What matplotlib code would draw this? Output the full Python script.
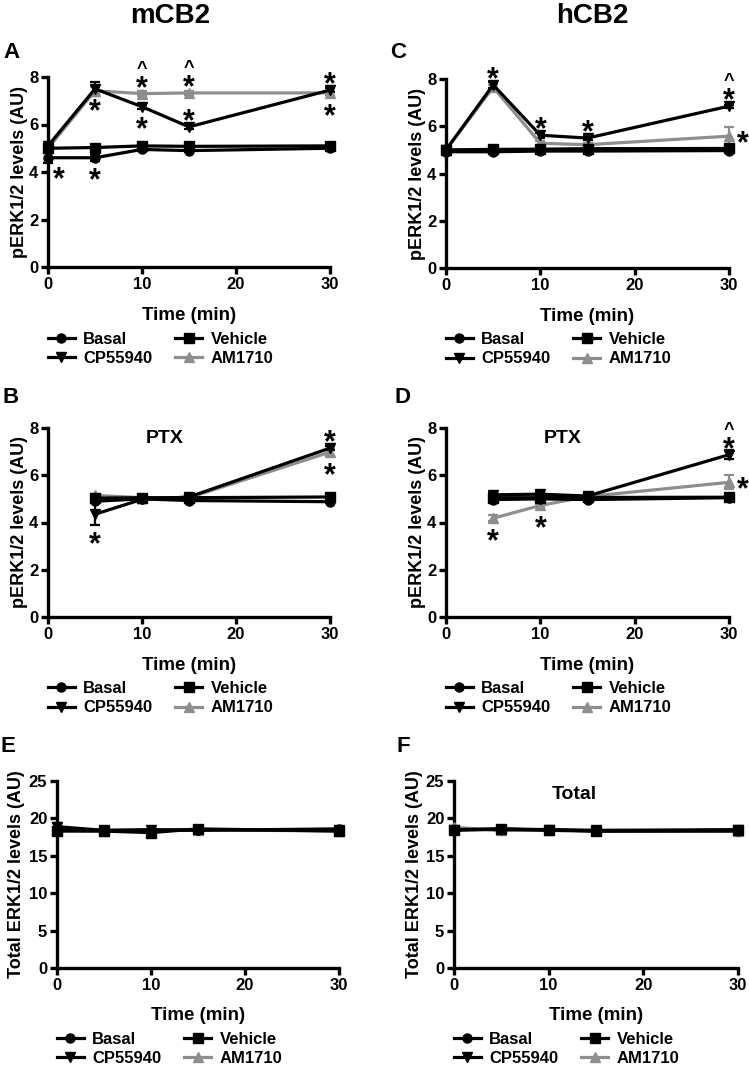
import matplotlib
matplotlib.use("Agg")
import matplotlib.pyplot as plt

plt.rcParams["font.family"] = ["Liberation Sans", "DejaVu Sans"]
plt.rcParams["font.weight"] = "bold"

# time points (min)
times = [0, 5, 10, 15, 30]
times_ptx = [5, 10, 15, 30]

# A: mCB2
a_basal = [4.6, 4.6, 4.95, 4.9, 5.0]
a_basal_err = [0.2, 0.12, 0.05, 0.05, 0.05]
a_vehicle = [5.0, 5.03, 5.1, 5.08, 5.1]
a_vehicle_err = [0.05, 0.05, 0.05, 0.05, 0.05]
a_cp = [5.1, 7.5, 6.75, 5.9, 7.45]
a_cp_err = [0.1, 0.28, 0.08, 0.08, 0.08]
a_am = [5.0, 7.42, 7.3, 7.33, 7.33]
a_am_err = [0.1, 0.15, 0.12, 0.08, 0.1]

# C: hCB2
c_basal = [4.92, 4.92, 4.95, 4.95, 4.97]
c_basal_err = [0.05, 0.05, 0.05, 0.05, 0.05]
c_vehicle = [5.0, 5.02, 5.03, 5.05, 5.06]
c_vehicle_err = [0.05, 0.05, 0.05, 0.05, 0.05]
c_cp = [5.0, 7.75, 5.62, 5.5, 6.85]
c_cp_err = [0.08, 0.12, 0.1, 0.1, 0.06]
c_am = [5.0, 7.65, 5.28, 5.22, 5.58]
c_am_err = [0.08, 0.1, 0.08, 0.05, 0.4]

# B: mCB2 + PTX
b_basal = [4.9, 5.0, 4.93, 4.88]
b_basal_err = [0.05, 0.05, 0.05, 0.05]
b_vehicle = [5.03, 5.05, 5.05, 5.08]
b_vehicle_err = [0.05, 0.05, 0.05, 0.05]
b_cp = [4.35, 4.98, 5.08, 7.15]
b_cp_err = [0.47, 0.12, 0.06, 0.08]
b_am = [5.15, 5.05, 5.05, 6.98]
b_am_err = [0.05, 0.05, 0.05, 0.15]

# D: hCB2 + PTX
d_basal = [4.97, 5.0, 4.97, 5.05]
d_basal_err = [0.05, 0.05, 0.05, 0.05]
d_vehicle = [5.05, 5.05, 5.06, 5.07]
d_vehicle_err = [0.05, 0.05, 0.05, 0.05]
d_cp = [5.17, 5.2, 5.12, 6.87]
d_cp_err = [0.08, 0.1, 0.06, 0.2]
d_am = [4.18, 4.72, 5.1, 5.7]
d_am_err = [0.12, 0.06, 0.05, 0.3]

# E: mCB2 total ERK
e_basal = [18.6, 18.4, 18.5, 18.4, 18.6]
e_vehicle = [18.3, 18.3, 18.1, 18.6, 18.3]
e_cp = [18.9, 18.4, 18.4, 18.5, 18.4]
e_cp_err = [0.5, 0.1, 0.1, 0.1, 0.1]
e_am = [18.5, 18.3, 18.3, 18.5, 18.3]

# F: hCB2 total ERK
f_basal = [18.5, 18.6, 18.4, 18.3, 18.3]
f_vehicle = [18.4, 18.6, 18.5, 18.3, 18.4]
f_cp = [18.5, 18.5, 18.5, 18.4, 18.5]
f_am = [18.8, 18.4, 18.4, 18.4, 18.3]

labels = ["Basal", "Vehicle", "CP55940", "AM1710"]

# significance marks: (series, time, symbol, placement)
a_marks = [("Basal", 0, "*", "below_right"), ("Basal", 5, "*", "below"),
           ("CP55940", 5, "*", "below"), ("CP55940", 10, "*", "below"),
           ("AM1710", 10, "*", "above"), ("AM1710", 10, "^", "above2"),
           ("CP55940", 15, "*", "above"), ("AM1710", 15, "*", "above"),
           ("AM1710", 15, "^", "above2"), ("CP55940", 30, "*", "above"),
           ("AM1710", 30, "*", "below")]
c_marks = [("CP55940", 5, "*", "above"), ("CP55940", 10, "*", "above"),
           ("CP55940", 15, "*", "above"), ("CP55940", 30, "*", "above"),
           ("CP55940", 30, "^", "above2"), ("AM1710", 30, "*", "right")]
b_marks = [("CP55940", 5, "*", "below_far"), ("CP55940", 30, "*", "above"),
           ("AM1710", 30, "*", "below")]
d_marks = [("AM1710", 5, "*", "below"), ("AM1710", 10, "*", "below"),
           ("CP55940", 30, "*", "above"), ("CP55940", 30, "^", "above2"),
           ("AM1710", 30, "*", "right")]

# offsets in points (dx, dy) of the symbol centre from the data point
placement = {"above": (0, 9.0), "above2": (0, 21), "below": (0, -11.5),
             "below_far": (0, -16.5), "below_right": (7.5, -10.5), "right": (10, 0)}
sym_size = {"*": 22, "^": 13}

GRAY = "#8e8e8e"
styles = {"Basal": dict(marker="o", color="black"),
          "Vehicle": dict(marker="s", color="black"),
          "CP55940": dict(marker="v", color="black"),
          "AM1710": dict(marker="^", color=GRAY)}
draw_order = ["AM1710", "Basal", "Vehicle", "CP55940"]

fig = plt.figure(figsize=(7.49, 10.70), dpi=100)
W, H = 749, 1070


def px_axes(left, right, top, bottom):
    return fig.add_axes([left / W, 1 - bottom / H, (right - left) / W, (bottom - top) / H])


def panel(ax, t, series, errs, ymax, ystep, ylabel, ylab_x, marks=(), note=None):
    lines = {}
    for name in draw_order:
        st = styles[name]
        y = series[name]
        e = errs.get(name)
        if e is not None:
            ax.errorbar(t, y, yerr=e, fmt="none", ecolor=st["color"], elinewidth=1.6,
                        capsize=3.5, capthick=1.6, clip_on=False, zorder=2)
        ln, = ax.plot(t, y, marker=st["marker"], color=st["color"], lw=2.3, ms=6.5,
                      clip_on=False, zorder=3, label=name)
        lines[name] = ln
    ax.set_xlim(0, 30)
    ax.set_ylim(0, ymax)
    ax.set_xticks([0, 10, 20, 30])
    ax.set_yticks(range(0, ymax + 1, ystep))
    for s in ["top", "right"]:
        ax.spines[s].set_visible(False)
    for s in ["left", "bottom"]:
        ax.spines[s].set_linewidth(2.4)
    ax.tick_params(direction="out", length=5, width=2.4, labelsize=12, pad=2)
    for lab in ax.get_xticklabels() + ax.get_yticklabels():
        lab.set_fontweight("bold")
    ax.set_xlabel("Time (min)", fontsize=13.5, fontweight="bold", va="center")
    ax.xaxis.set_label_coords(0.5, -0.255)
    ax.set_ylabel(ylabel, fontsize=13, fontweight="bold", va="center")
    ax.yaxis.set_label_coords(ylab_x, 0.5)
    for name, tm, sym, where in marks:
        y = series[name][list(t).index(tm)]
        dx, dy = placement[where]
        fs = sym_size[sym]
        ax.annotate(sym, (tm, y), xytext=(dx, dy - 0.52 * fs), textcoords="offset points",
                    ha="center", va="baseline", fontsize=fs, fontweight="bold",
                    annotation_clip=False, zorder=5)
    if note is not None:
        ax.text(note[1], note[2], note[0], ha="center", va="center",
                fontsize=14, fontweight="bold")
    handles = [lines[n] for n in ["Basal", "CP55940", "Vehicle", "AM1710"]]
    ax.legend(handles=handles, ncol=2, loc="upper left", bbox_to_anchor=(0.0, -0.34),
              frameon=False, prop=dict(size=12, weight="bold"), handlelength=1.6,
              handletextpad=0.5, columnspacing=1.4, labelspacing=0.25,
              borderpad=0, borderaxespad=0)


axA = px_axes(48, 330, 77, 267)
panel(axA, times, dict(zip(labels, [a_basal, a_vehicle, a_cp, a_am])),
      dict(zip(labels, [a_basal_err, a_vehicle_err, a_cp_err, a_am_err])),
      8, 2, "pERK1/2 levels (AU)", -0.1, a_marks)

axC = px_axes(446, 729, 79, 268)
panel(axC, times, dict(zip(labels, [c_basal, c_vehicle, c_cp, c_am])),
      dict(zip(labels, [c_basal_err, c_vehicle_err, c_cp_err, c_am_err])),
      8, 2, "pERK1/2 levels (AU)", -0.1, c_marks)

axB = px_axes(48, 330, 428, 617)
panel(axB, times_ptx, dict(zip(labels, [b_basal, b_vehicle, b_cp, b_am])),
      dict(zip(labels, [b_basal_err, b_vehicle_err, b_cp_err, b_am_err])),
      8, 2, "pERK1/2 levels (AU)", -0.1, b_marks, note=("PTX", 12.4, 7.55))

axD = px_axes(446, 729, 428, 617)
panel(axD, times_ptx, dict(zip(labels, [d_basal, d_vehicle, d_cp, d_am])),
      dict(zip(labels, [d_basal_err, d_vehicle_err, d_cp_err, d_am_err])),
      8, 2, "pERK1/2 levels (AU)", -0.1, d_marks, note=("PTX", 12.4, 7.55))

axE = px_axes(57, 339, 781, 968)
panel(axE, times, dict(zip(labels, [e_basal, e_vehicle, e_cp, e_am])),
      {"CP55940": e_cp_err}, 25, 5, "Total ERK1/2 levels (AU)", -0.145)

axF = px_axes(454, 738, 781, 968)
panel(axF, times, dict(zip(labels, [f_basal, f_vehicle, f_cp, f_am])),
      {}, 25, 5, "Total ERK1/2 levels (AU)", -0.14, note=("Total", 12.7, 23.2))

# column headers and panel letters
fig.text(170 / W, 1 - 16 / H, "mCB2", ha="center", va="center", fontsize=20, fontweight="bold")
fig.text(592 / W, 1 - 16 / H, "hCB2", ha="center", va="center", fontsize=20, fontweight="bold")
for letter, x, y in [("A", 3, 58), ("C", 390, 58), ("B", 3, 403),
                     ("D", 395, 403), ("E", 0, 752), ("F", 396, 752)]:
    fig.text(x / W, 1 - y / H, letter, ha="left", va="baseline", fontsize=16, fontweight="bold")

fig.savefig("out.png", dpi=100)
